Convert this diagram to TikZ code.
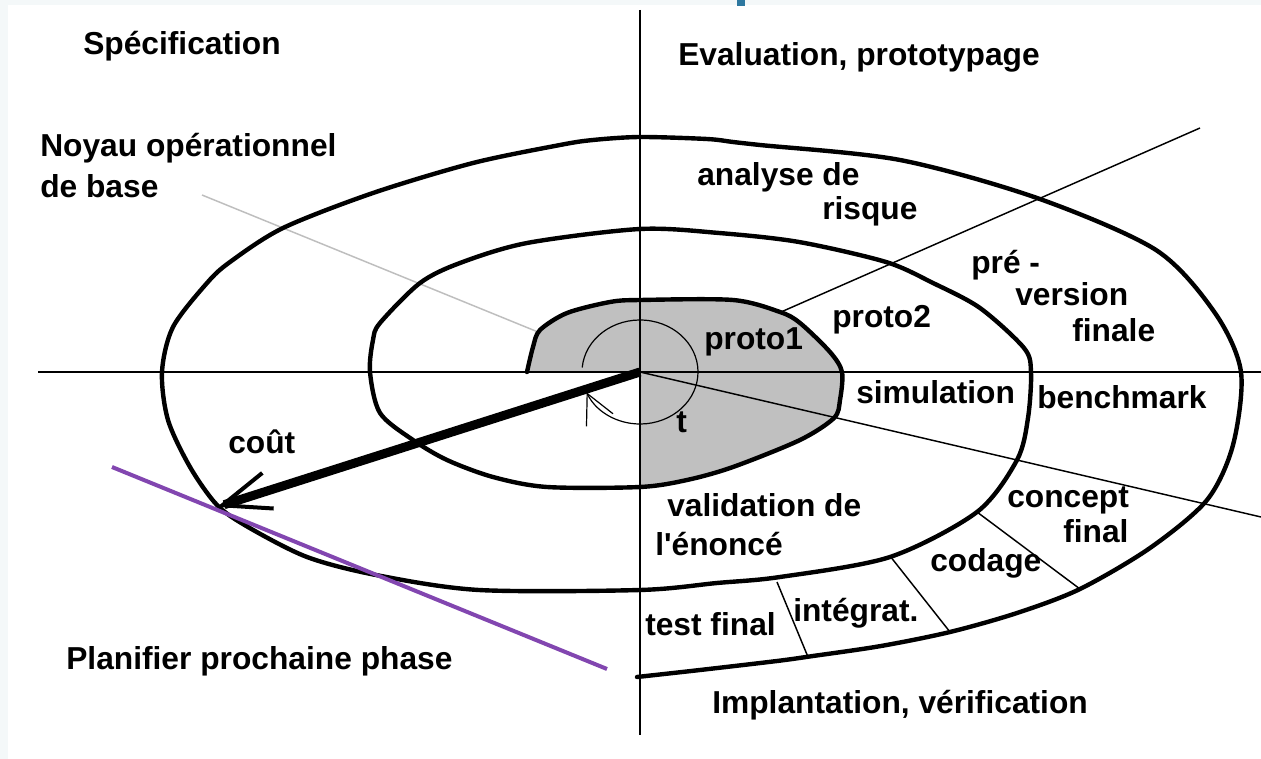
\documentclass[tikz,border=0pt]{standalone}
\usepackage{fontspec}
\setmainfont{Liberation Sans}
\usetikzlibrary{arrows.meta}
\definecolor{paper}{RGB}{244,248,249}
\definecolor{tab}{RGB}{46,120,160}
\definecolor{core}{RGB}{192,192,192}
\definecolor{pointer}{RGB}{190,190,190}
\definecolor{plan}{RGB}{130,70,176}
\begin{document}
\begin{tikzpicture}[x=0.75pt,y=-0.75pt,
  spiral/.style={line width=3.3pt,line join=round,line cap=round},
  axis/.style={line width=1.5pt},
  fine/.style={line width=1.1pt},
  lbl/.style={anchor=base west,inner sep=0pt,font=\fontsize{23.8pt}{28pt}\selectfont\bfseries}]

% page and frame strips
\fill[white] (0,0) rectangle (1261,759);
\fill[paper] (0,0) rectangle (8,759);
\fill[paper] (0,0) rectangle (1261,5);
\fill[tab] (737,0) rectangle (745,6);
\useasboundingbox (0,0) rectangle (1261,759);

% named points
\coordinate (O) at (640,372);
\coordinate (axL) at (38,372);
\coordinate (axR) at (1261,372);
\coordinate (axT) at (640,10);
\coordinate (axB) at (640,735);
\coordinate (costtip) at (217,507);
\coordinate (rayA) at (781,312);
\coordinate (rayB) at (1200,128);
\coordinate (rayC) at (1261,517);
\coordinate (ptrA) at (202,195);
\coordinate (ptrB) at (538,332);
\coordinate (planA) at (112,467);
\coordinate (planB) at (607,669);
\coordinate (d1a) at (977,512);
\coordinate (d1b) at (1080,589);
\coordinate (d2a) at (890,556);
\coordinate (d2b) at (950,632);
\coordinate (d3a) at (777,582);
\coordinate (d3b) at (808,657);

% shaded first turn (proto1 core)
\fill[core] plot[smooth] coordinates {(640,487) (687,480) (733,467) (800,440) (834,418) (840,400) (842,372) (830,352) (800,323) (780,312) (733,300) (640,300) (610,302) (567,313) (540,330) (533,347) (527,372)} -- (O) -- cycle;

% axes
\draw[axis] (axL) -- (axR);
\draw[axis] (axT) -- (axB);

% radial and dividing lines
\draw[fine] (rayA) -- (rayB);
\draw[fine] (O) -- (rayC);
\draw[fine] (d1a) -- (d1b);
\draw[fine] (d2a) -- (d2b);
\draw[fine] (d3a) -- (d3b);
\draw[pointer,line width=1.1pt] (ptrA) -- (ptrB);

% the spiral
\draw[spiral] plot[smooth] coordinates {
  (637,677) (700,670) (777,661) (813,656) (881,646) (950,632) (1017,613) (1080,589) (1150,548) (1207,500) (1233,445) (1241,372) (1215,313) (1156,250) (1037,198) (900,160) (760,145) (733,142) (707,139) (640,137) (593,140) (560,145) (473,163) (373,193) (283,228) (230,262) (207,283) (173,327) (162,372) (168,420) (190,467) (217,505) (248,527) (307,557) (376,575) (479,590) (640,590)
  (717,583) (780,577) (890,557) (977,512) (1017,460) (1028,418) (1031,372) (1024,348) (980,308) (933,283) (886,262) (799,242) (719,233) (640,229) (527,243) (460,263) (420,283) (380,323) (373,340) (370,372) (380,413) (413,440) (447,460) (493,477) (547,487) (640,487)
  (687,480) (733,467) (800,440) (834,418) (840,400) (842,372) (830,352) (800,323) (780,312) (733,300) (640,300) (610,302) (567,313) (540,330) (533,347) (527,372)};

% turning circle with its arrow
\draw[line width=0.9pt,-{Straight Barb[length=22pt,width=22pt,line width=0.9pt]}]
  (O) ++(-175:58 and 52) arc[start angle=-175,end angle=157,x radius=58,y radius=52];

% cost arrow
\draw[line width=6.75pt,-{Straight Barb[length=36pt,width=28pt,line width=3pt]}] (O) -- (costtip);

% planning line
\draw[plan,line width=3pt] (planA) -- (planB);

% labels
\node[lbl] (spec) at (83,55) {Spécification};
\node[lbl] (eval) at (678,66) {Evaluation, prototypage};
\node[lbl] (noyau1) at (40,157) {Noyau opérationnel};
\node[lbl] (noyau2) at (40,198) {de base};
\node[lbl] (risk1) at (697,186) {analyse de};
\node[lbl] (risk2) at (822,220) {risque};
\node[lbl] (pre1) at (971,274) {pré -};
\node[lbl] (pre2) at (1015,306) {version};
\node[lbl] (pre3) at (1072,342) {finale};
\node[lbl] (p2) at (832,328) {proto2};
\node[lbl] (p1) at (704,350) {proto1};
\node[lbl] (sim) at (856,403) {simulation};
\node[lbl] (bench) at (1037,408) {benchmark};
\node[lbl] (tt) at (676,432) {t};
\node[lbl] (cost) at (228,453) {coût};
\node[lbl] (val1) at (667,516) {validation de};
\node[lbl] (val2) at (655,555) {l\textquotesingle énoncé};
\node[lbl] (conc1) at (1007,507) {concept};
\node[lbl] (conc2) at (1063,542) {final};
\node[lbl] (cod) at (930,571) {codage};
\node[lbl] (integ) at (793,621) {intégrat.};
\node[lbl] (test) at (645,635) {test final};
\node[lbl] (plan) at (66,669) {Planifier prochaine phase};
\node[lbl] (impl) at (712,713) {Implantation, vérification};
\end{tikzpicture}
\end{document}
